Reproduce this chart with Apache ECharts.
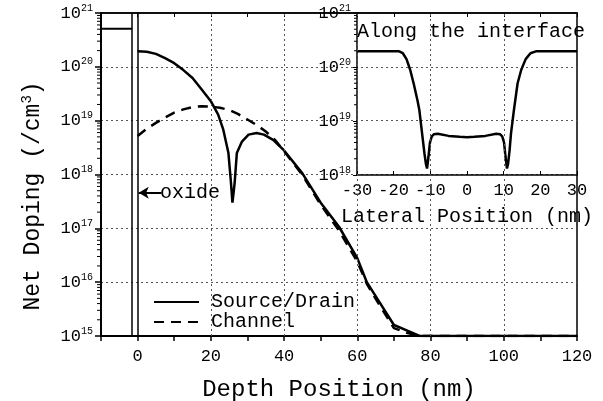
<!DOCTYPE html>
<html>
<head>
<meta charset="utf-8">
<script src="https://cdn.jsdelivr.net/npm/echarts@6/dist/echarts.min.js"></script>
<style>
  html, body { margin: 0; padding: 0; background: #fff; }
  #chart { width: 603px; height: 401px; }
</style>
</head>
<body>
<div id="chart"></div>
<script>
// depth profile (main plot)
const depthSD = [0, 2.5, 5, 7.5, 10, 12.5, 15, 17.5, 20, 22, 23.4, 24.8, 25.5, 25.9, 26.2, 26.5, 27.1, 28.5, 30.3, 32.5, 34.5, 37, 40, 45, 50, 55, 60, 62.6, 66, 70, 73.5, 77, 120];
const dopingSD = [1.95e20, 1.9e20, 1.74e20, 1.45e20, 1.17e20, 8.7e19, 6.2e19, 3.8e19, 2.3e19, 1.3e19, 6.8e18, 2.5e18, 7e17, 3.0e17, 4.5e17, 7e17, 2.5e18, 4.1e18, 5.5e18, 5.9e18, 5.5e18, 4.4e18, 2.8e18, 1.05e18, 3.0e17, 1.07e17, 2.8e16, 1.0e16, 4.3e15, 1.6e15, 1.27e15, 1.0e15, 1.0e15];

const depthCh = [0, 2.5, 5, 7.5, 10, 12.5, 15, 17.5, 20, 22.5, 25, 27.5, 30, 32.5, 35, 37.5, 40, 45, 50, 55, 60, 62.6, 66, 70, 73.5, 77, 120];
const dopingCh = [5.2e18, 7.1e18, 9.1e18, 1.15e19, 1.41e19, 1.62e19, 1.78e19, 1.86e19, 1.82e19, 1.74e19, 1.58e19, 1.32e19, 1.05e19, 8.3e18, 6.3e18, 4.4e18, 2.7e18, 9.8e17, 2.75e17, 9.1e16, 2.4e16, 9.3e15, 3.8e15, 1.4e15, 1.15e15, 1.0e15, 1.0e15];

// oxide layer: edges and its level
const oxideEdges = [-1.5, 0];
const oxideLevel = 5.1e20;
const oxideArrowY = 4.6e17;
const depthGridLines = [20, 40, 60, 80, 100];

// inset: along the interface
const lateralPos = [-30, -18.5, -17.5, -16.5, -15.5, -14.5, -13.5, -13, -12.3, -11.6, -11.2, -10.9, -10.5, -10.1, -9.6, -9, -8, -5, -2, 0, 2, 5, 8, 9, 9.6, 10.1, 10.5, 10.9, 11.2, 11.6, 12.0, 12.8, 13.8, 14.8, 16, 17.3, 18.8, 30];
const interfaceDoping = [1.95e20, 1.95e20, 1.8e20, 1.4e20, 8.9e19, 4.8e19, 2.4e19, 1.6e19, 6.3e18, 2.5e18, 1.6e18, 1.32e18, 2.2e18, 4.0e18, 5.2e18, 5.7e18, 5.8e18, 5.3e18, 5.1e18, 5.0e18, 5.1e18, 5.3e18, 5.8e18, 5.7e18, 5.2e18, 4.0e18, 2.2e18, 1.32e18, 1.6e18, 2.8e18, 5.9e18, 1.6e19, 5.0e19, 8.9e19, 1.4e20, 1.8e20, 1.95e20, 1.95e20];

// log minor tick marks (2..9 x 10^n)
const mainDecades = [15, 16, 17, 18, 19, 20];
const insetDecades = [18, 19, 20];
const minorMult = [2, 3, 4, 5, 6, 7, 8, 9];

const FONT = 'Liberation Mono';

function pairs(xs, ys) {
  return xs.map((x, i) => [x, ys[i]]);
}

function powLabel(v) {
  const e = Math.round(Math.log10(v));
  return '{b|10}{s|' + e + '}';
}

const powRich = {
  b: { fontFamily: FONT, fontSize: 17, color: '#000' },
  s: { fontFamily: FONT, fontSize: 10, color: '#000', padding: [0, 0, 10, 0] }
};

function minorTicks(xIdx, yIdx, xAt, decades, len) {
  const data = [];
  decades.forEach(e => minorMult.forEach(m => data.push([xAt, m * Math.pow(10, e)])));
  return {
    type: 'custom', xAxisIndex: xIdx, yAxisIndex: yIdx, clip: false, silent: true,
    data: data,
    renderItem: (params, api) => {
      const p = api.coord([api.value(0), api.value(1)]);
      return {
        type: 'line',
        shape: { x1: p[0] - len, y1: p[1], x2: p[0], y2: p[1] },
        style: { stroke: '#000', lineWidth: 1 }
      };
    },
    z: 5
  };
}

const chart = echarts.init(document.getElementById('chart'));

chart.setOption({
  animation: false,
  backgroundColor: '#fff',
  textStyle: { fontFamily: FONT },
  grid: [
    { left: 101, right: 26, top: 13, bottom: 65, outerBoundsMode: 'none', containLabel: false,
      show: true, borderColor: '#000', borderWidth: 1.5, backgroundColor: 'transparent' },
    { left: 357, right: 26, top: 13, height: 162, outerBoundsMode: 'none', containLabel: false }
  ],
  legend: {
    data: ['Source/Drain', 'Channel'],
    orient: 'vertical',
    left: 148,
    top: 287,
    itemWidth: 45,
    itemHeight: 14,
    itemGap: 0,
    itemStyle: { opacity: 0 },
    textStyle: { fontFamily: FONT, fontSize: 20, color: '#000', padding: [0, 0, 0, 7] }
  },
  xAxis: [
    {
      gridIndex: 0, type: 'value', min: -10, max: 120, interval: 10,
      name: 'Depth Position (nm)', nameLocation: 'middle', nameGap: 42,
      nameTextStyle: { fontFamily: FONT, fontSize: 24, color: '#000' },
      axisLine: { show: true, onZero: false, lineStyle: { color: '#000', width: 2 } },
      axisTick: { show: true, length: 5, lineStyle: { color: '#000', width: 1.5 } },
      axisLabel: {
        fontFamily: FONT, fontSize: 17, color: '#000', margin: 12,
        formatter: v => (v % 20 === 0 ? String(v) : '')
      },
      splitLine: { show: false }
    },
    {
      gridIndex: 0, type: 'value', position: 'top', min: -10, max: 120, interval: 10,
      axisLine: { show: true, onZero: false, lineStyle: { color: '#000', width: 1.5 } },
      axisTick: { show: true, inside: true, length: 4, lineStyle: { color: '#000' } },
      axisLabel: { show: false },
      splitLine: { show: false }
    },
    {
      gridIndex: 1, type: 'value', min: -30, max: 30, interval: 10,
      name: 'Lateral Position (nm)', nameLocation: 'middle', nameGap: 32,
      nameTextStyle: { fontFamily: FONT, fontSize: 20, color: '#000' },
      axisLine: { show: true, onZero: false, lineStyle: { color: '#000', width: 1.5 } },
      axisTick: { show: true, inside: true, length: 4, lineStyle: { color: '#000' } },
      axisLabel: { fontFamily: FONT, fontSize: 17, color: '#000', margin: 7 },
      splitLine: { show: false }
    }
  ],
  yAxis: [
    {
      gridIndex: 0, type: 'log', logBase: 10, min: 1e15, max: 1e21,
      axisLine: { show: true, onZero: false, lineStyle: { color: '#000', width: 2 } },
      axisTick: { show: true, length: 6, lineStyle: { color: '#000', width: 1.5 } },
      axisLabel: { margin: 8, formatter: powLabel, rich: powRich },
      splitLine: { show: true, lineStyle: { color: '#555', width: 1, type: [2, 3] } }
    },
    {
      gridIndex: 1, type: 'log', logBase: 10, min: 1e18, max: 1e21,
      axisLine: { show: true, onZero: false, lineStyle: { color: '#000', width: 1.5 } },
      axisTick: { show: true, length: 4, lineStyle: { color: '#000' } },
      axisLabel: { margin: 6, formatter: powLabel, rich: powRich },
      splitLine: { show: false }
    }
  ],
  graphic: [
    {
      type: 'text', x: 33, y: 196, rotation: Math.PI / 2,
      style: {
        text: 'Net Doping (/cm{s|3})', fontFamily: FONT, fontSize: 23, fill: '#000',
        align: 'center', verticalAlign: 'middle',
        rich: { s: { fontFamily: FONT, fontSize: 14, fill: '#000', padding: [0, 0, 12, 0] } }
      }
    },
    {
      type: 'text', left: 160, top: 183,
      style: { text: 'oxide', fontFamily: FONT, fontSize: 20, fill: '#000' }
    },
    {
      type: 'text', left: 357, top: 22,
      style: { text: 'Along the interface', fontFamily: FONT, fontSize: 20, fill: '#000' }
    }
  ],
  series: [
    {
      name: 'oxide', type: 'line', xAxisIndex: 0, yAxisIndex: 0,
      data: [[-10, oxideLevel], [oxideEdges[0], oxideLevel]],
      symbol: 'none', silent: true,
      lineStyle: { color: '#000', width: 2 },
      markLine: {
        silent: true, symbol: ['none', 'none'], label: { show: false },
        data: oxideEdges.map(x => ({ xAxis: x, lineStyle: { color: '#000', width: 1.5, type: 'solid' } }))
          .concat(depthGridLines.map(x => ({ xAxis: x, lineStyle: { color: '#555', width: 1, type: [2, 3] } })))
      },
      z: 1
    },
    {
      name: 'arrow', type: 'line', xAxisIndex: 0, yAxisIndex: 0,
      data: [], symbol: 'none',
      markLine: {
        silent: true, symbol: ['none', 'arrow'], symbolSize: [9, 10],
        label: { show: false },
        lineStyle: { color: '#000', width: 2, type: 'solid' },
        data: [[{ coord: [6.5, oxideArrowY] }, { coord: [0.3, oxideArrowY] }]]
      }
    },
    {
      name: 'Source/Drain', type: 'line', xAxisIndex: 0, yAxisIndex: 0,
      data: pairs(depthSD, dopingSD),
      symbol: 'none', smooth: false,
      lineStyle: { color: '#000', width: 2.5 },
      itemStyle: { color: '#000' },
      z: 3
    },
    {
      name: 'Channel', type: 'line', xAxisIndex: 0, yAxisIndex: 0,
      data: pairs(depthCh, dopingCh),
      symbol: 'none', smooth: false,
      lineStyle: { color: '#000', width: 2.5, type: [10, 7] },
      itemStyle: { color: '#000' },
      z: 2
    },
    {
      name: 'Interface', type: 'line', xAxisIndex: 2, yAxisIndex: 1,
      data: pairs(lateralPos, interfaceDoping),
      symbol: 'none', smooth: false,
      lineStyle: { color: '#000', width: 2.5 },
      z: 3
    },
    minorTicks(0, 0, -10, mainDecades, 4),
    minorTicks(2, 1, -30, insetDecades, 3)
  ]
});
</script>
</body>
</html>
